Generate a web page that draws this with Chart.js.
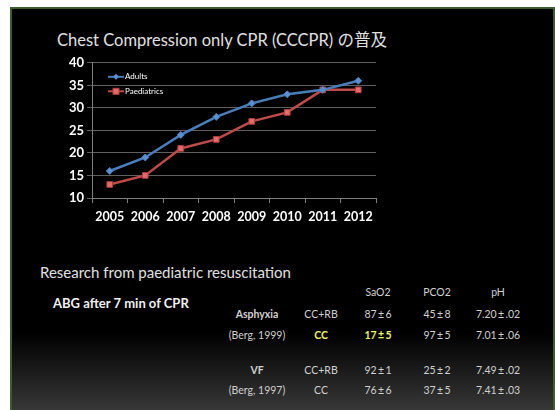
<!DOCTYPE html>
<html>
<head>
<meta charset="utf-8">
<script src="https://cdn.jsdelivr.net/npm/chart.js@4.4.0/dist/chart.umd.min.js"></script>
<style>
  body { margin: 0; background: #fff; width: 555px; height: 410px; overflow: hidden; position: relative; }
  #slide {
    position: absolute; left: 10px; top: 7px; width: 541px; height: 405px;
    border: 2px solid #3e5c2c;
    background: linear-gradient(to bottom, #000 0%, #000 80%, #3a3a3a 100%);
    font-family: "Lato", "Noto Sans CJK JP", sans-serif;
    color: #d9d9d9;
  }
  .abs { position: absolute; white-space: nowrap; }
  .c { transform: translate(-50%, -50%); }
  #title { left: 45px; top: 18px; font-size: 16.5px; color: #e0e0e0; }
  #chartBox { position: absolute; left: 48px; top: 43px; width: 325px; height: 176px; }
  #research { left: 28px; top: 254px; font-size: 15px; color: #e0e0e0; }
  #abg { left: 41px; top: 286px; font-size: 13px; font-weight: bold; color: #f0f0f0; }
  .t { font-size: 10.5px; color: #d0d0d0; }
  .b { font-weight: bold; }
  .y { color: #f0f070; }
</style>
</head>
<body>
<div id="slide">
  <div id="title" class="abs">Chest Compression only CPR (CCCPR) の普及</div>
  <div id="chartBox"><canvas id="cprChart"></canvas></div>
  <div id="research" class="abs">Research from paediatric resuscitation</div>
  <div id="abg" class="abs">ABG after 7 min of CPR</div>

  <div class="abs c t" style="left:366px;top:283px">SaO2</div>
  <div class="abs c t" style="left:425px;top:283px">PCO2</div>
  <div class="abs c t" style="left:486px;top:283px">pH</div>

  <div class="abs c t b" style="left:245px;top:305px">Asphyxia</div>
  <div class="abs c t" style="left:309px;top:305px">CC+RB</div>
  <div class="abs c t" style="left:366px;top:305px">87&thinsp;±&thinsp;6</div>
  <div class="abs c t" style="left:425px;top:305px">45&thinsp;±&thinsp;8</div>
  <div class="abs c t" style="left:486px;top:305px">7.20&thinsp;±&thinsp;.02</div>

  <div class="abs c t" style="left:245px;top:326px">(Berg, 1999)</div>
  <div class="abs c t b y" style="left:309px;top:326px">CC</div>
  <div class="abs c t b y" style="left:366px;top:326px">17&thinsp;±&thinsp;5</div>
  <div class="abs c t" style="left:425px;top:326px">97&thinsp;±&thinsp;5</div>
  <div class="abs c t" style="left:486px;top:326px">7.01&thinsp;±&thinsp;.06</div>

  <div class="abs c t b" style="left:245px;top:361px">VF</div>
  <div class="abs c t" style="left:309px;top:361px">CC+RB</div>
  <div class="abs c t" style="left:366px;top:361px">92&thinsp;±&thinsp;1</div>
  <div class="abs c t" style="left:425px;top:361px">25&thinsp;±&thinsp;2</div>
  <div class="abs c t" style="left:486px;top:361px">7.49&thinsp;±&thinsp;.02</div>

  <div class="abs c t" style="left:245px;top:381px">(Berg, 1997)</div>
  <div class="abs c t" style="left:309px;top:381px">CC</div>
  <div class="abs c t" style="left:366px;top:381px">76&thinsp;±&thinsp;6</div>
  <div class="abs c t" style="left:425px;top:381px">37&thinsp;±&thinsp;5</div>
  <div class="abs c t" style="left:486px;top:381px">7.41&thinsp;±&thinsp;.03</div>
</div>

<script>
const years = ['2005', '2006', '2007', '2008', '2009', '2010', '2011', '2012'];
const adults = [16, 19, 24, 28, 31, 33, 34, 36];
const paediatrics = [13, 15, 21, 23, 27, 29, 34, 34];
const yTicks = [10, 15, 20, 25, 30, 35, 40];

// legend drawn inside the plot, top-left, like the Excel original
const innerLegend = {
  id: 'innerLegend',
  afterDraw(chart) {
    const ctx = chart.ctx;
    const area = chart.chartArea;
    chart.data.datasets.forEach((ds, i) => {
      const y = area.top + 14 + i * 14.5;
      const x0 = area.left + 16;
      ctx.save();
      ctx.strokeStyle = ds.borderColor;
      ctx.lineWidth = 2;
      ctx.beginPath();
      ctx.moveTo(x0, y);
      ctx.lineTo(x0 + 16, y);
      ctx.stroke();
      ctx.fillStyle = ds.pointBackgroundColor;
      ctx.strokeStyle = ds.pointBorderColor;
      ctx.lineWidth = 1;
      if (ds.pointStyle === 'rectRot') {
        ctx.beginPath();
        ctx.moveTo(x0 + 8, y - 3);
        ctx.lineTo(x0 + 11, y);
        ctx.lineTo(x0 + 8, y + 3);
        ctx.lineTo(x0 + 5, y);
        ctx.closePath();
        ctx.fill();
      } else {
        ctx.fillRect(x0 + 5, y - 3, 6, 6);
        ctx.strokeRect(x0 + 5, y - 3, 6, 6);
      }
      ctx.fillStyle = '#ffffff';
      ctx.font = '8px Lato, sans-serif';
      ctx.textBaseline = 'middle';
      ctx.fillText(ds.label, x0 + 17, y);
      ctx.restore();
    });
  }
};

new Chart(document.getElementById('cprChart'), {
  type: 'line',
  data: {
    labels: years,
    datasets: [{
      label: 'Adults',
      data: adults,
      borderColor: '#4a7ebb',
      borderWidth: 2.5,
      pointStyle: 'rectRot',
      pointRadius: 3.5,
      pointBackgroundColor: '#5b8fd0',
      pointBorderColor: '#4a7ebb',
      pointBorderWidth: 1
    }, {
      label: 'Paediatrics',
      data: paediatrics,
      borderColor: '#be4b48',
      borderWidth: 2.5,
      pointStyle: 'rect',
      pointRadius: 4,
      pointBackgroundColor: '#e36c6a',
      pointBorderColor: '#b04040',
      pointBorderWidth: 1
    }]
  },
  options: {
    responsive: true,
    maintainAspectRatio: false,
    animation: false,
    layout: { padding: { top: 10, right: 9, left: 0, bottom: 0 } },
    plugins: { legend: { display: false }, tooltip: { enabled: false } },
    scales: {
      x: {
        offset: true,
        grid: { offset: true, drawOnChartArea: false, drawTicks: true, tickLength: 5, color: '#7f7f7f' },
        border: { color: '#7f7f7f' },
        ticks: { color: '#ffffff', font: { family: 'Lato', size: 12.5, weight: 'bold' }, padding: 6, maxRotation: 0 },
        afterFit(axis) { axis.height = 30; }
      },
      y: {
        min: 10,
        max: 40,
        afterBuildTicks(axis) { axis.ticks = yTicks.map(v => ({ value: v })); },
        grid: { color: '#5f5f5f', tickLength: 5, lineWidth: 1 },
        border: { color: '#7f7f7f' },
        ticks: { color: '#ffffff', font: { family: 'Lato', size: 13, weight: 'bold' }, padding: 3 },
        afterFit(axis) { axis.width = 32; }
      }
    }
  },
  plugins: [innerLegend]
});
</script>
</body>
</html>
